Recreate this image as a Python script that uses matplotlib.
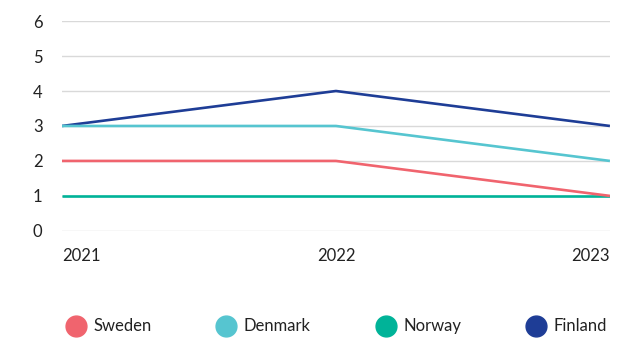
import matplotlib
matplotlib.use("Agg")
from matplotlib import pyplot as plt
from matplotlib.lines import Line2D

years = ["2021", "2022", "2023"]
countries = ["Sweden", "Denmark", "Norway", "Finland"]
sweden = [2, 2, 1]
denmark = [3, 3, 2]
norway = [1, 1, 1]
finland = [3, 4, 3]
colors = {"Sweden": "#F0646E", "Denmark": "#56C5D0", "Norway": "#00B398", "Finland": "#1E3D96"}

plt.rcParams["font.family"] = ["Lato", "DejaVu Sans"]

fig = plt.figure(figsize=(6.17, 3.4), dpi=100)
ax = fig.add_axes([0.1005, 0.321, 0.888, 0.617])

x = range(len(years))
series = {"Sweden": sweden, "Denmark": denmark, "Norway": norway, "Finland": finland}
# draw order so overlaps look like the original
for name in ["Norway", "Finland", "Sweden", "Denmark"]:
    ax.plot(x, series[name], color=colors[name], lw=1.9, solid_capstyle="butt", zorder=3)

ax.set_xlim(0, len(years) - 1)
ax.set_ylim(0, 6)
ax.set_yticks(range(0, 7))
ax.grid(axis="y", color="#d9d9d9", lw=1)
ax.set_axisbelow(True)
for s in ax.spines.values():
    s.set_visible(False)
ax.tick_params(length=0, labelsize=12, colors="#222222")
ax.tick_params(axis="y", pad=14)
ax.tick_params(axis="x", pad=12)
ax.set_xticks(list(x))
ax.set_xticklabels(years)
for lab, ha in zip(ax.get_xticklabels(), ["left", "center", "right"]):
    lab.set_ha(ha)

handles = [Line2D([], [], ls="", marker="o", markersize=15, color=colors[c]) for c in countries]
fig.legend(handles, countries, loc="center", bbox_to_anchor=(0.545, 0.04), ncol=4,
           frameon=False, fontsize=12, handletextpad=0.45, columnspacing=3.9,
           handlelength=1.2, labelcolor="#222222")

fig.savefig("out.png", dpi=100)
